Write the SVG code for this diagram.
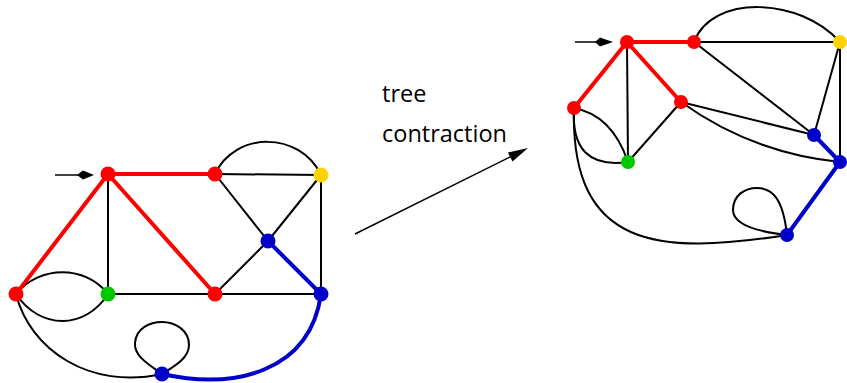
<svg xmlns="http://www.w3.org/2000/svg" width="847" height="383" viewBox="0 0 847 383">
<style>
.e{fill:none;stroke:#000;stroke-width:2}
.r{fill:none;stroke:#ff0000;stroke-width:4}
.b{fill:none;stroke:#0000c8;stroke-width:4}
.nr{fill:#ff0000}.nb{fill:#0000c8}.ng{fill:#00c800}.ny{fill:#ffd200}
.t{font-family:"Open Sans","Liberation Sans",sans-serif;font-size:23.5px;fill:#000}
</style>
<rect width="847" height="383" fill="#fff"/>
<g id="connectors">
<!-- left graph -->
<path class="e" d="M108,174 L108,294"/>
<path class="e" d="M215,174 L321,175"/>
<path class="e" d="M215,174 C235,131 300,131 321,175"/>
<path class="e" d="M215,174 L268,241"/>
<path class="e" d="M321,175 L268,241"/>
<path class="e" d="M321,175 L321,294"/>
<path class="e" d="M108,294 L321,294"/>
<path class="e" d="M215,294 L268,241"/>
<path class="e" d="M16,294 C40,265 85,265 108,294"/>
<path class="e" d="M16,294 C40,330 85,330 108,294"/>
<path class="e" d="M16,294 C30,350 90,390 162,374"/>
<path class="e" d="M162,374 C148,364 134,356 135,343 C136,328 150,322 162,322 C175,322 189,330 189,345 C189,358 175,366 162,374"/>
<path class="r" d="M108,174 L215,174"/>
<path class="r" d="M108,174 L16,294"/>
<path class="r" d="M108,174 L215,294"/>
<path class="b" d="M268,241 L321,294"/>
<path class="b" d="M162,374 C235,390 310,372 321,294"/>
<path fill="none" stroke="#000" stroke-width="1.5" d="M55,175 L80,175"/>
<polygon fill="#000" points="77,175 83,170.5 94,175 83,179.5"/>
<!-- middle arrow -->
<path fill="none" stroke="#000" stroke-width="1.5" d="M355,234 L515,154.5"/>
<polygon fill="#000" points="528,148 512.5,161.5 507.9,152.5"/>
<!-- right graph -->
<path class="e" d="M627,42 L628,162"/>
<path class="e" d="M694,42 L840,42"/>
<path class="e" d="M694,42 C712,-6 800,-3 840,42"/>
<path class="e" d="M694,42 L814,135"/>
<path class="e" d="M840,42 L814,135"/>
<path class="e" d="M840,42 L840,162"/>
<path class="e" d="M681,102 L628,162"/>
<path class="e" d="M681,102 L814,135"/>
<path class="e" d="M681,102 C720,130 770,155 840,162"/>
<path class="e" d="M574,108 Q612,115 628,162"/>
<path class="e" d="M574,108 Q570,170 628,162"/>
<path class="e" d="M574,108 C570,250 660,255 787,235"/>
<path class="e" d="M787,235 C760,232 733,225 733,210 C733,195 745,188 757,188 C772,188 783,198 787,235"/>
<path class="r" d="M627,42 L694,42"/>
<path class="r" d="M627,42 L574,108"/>
<path class="r" d="M627,42 L681,102"/>
<path class="b" d="M814,135 L840,162"/>
<path class="b" d="M840,162 L787,235"/>
<path fill="none" stroke="#000" stroke-width="1.5" d="M575,42 L598,42"/>
<polygon fill="#000" points="595,42 600,37.5 613,42 600,46.5"/>
</g>
<g id="left-nodes">
<g id="nA"><circle class="nr" cx="108" cy="174" r="7.5"/></g>
<g id="nB"><circle class="nr" cx="215" cy="174" r="7.5"/></g>
<g id="nC"><circle class="ny" cx="321" cy="175" r="7.5"/></g>
<g id="nD"><circle class="nb" cx="268" cy="241" r="7.5"/></g>
<g id="nE"><circle class="nr" cx="16" cy="294" r="7.5"/></g>
<g id="nF"><circle class="ng" cx="108" cy="294" r="7.5"/></g>
<g id="nG"><circle class="nr" cx="215" cy="294" r="7.5"/></g>
<g id="nH"><circle class="nb" cx="321" cy="294" r="7.5"/></g>
<g id="nI"><circle class="nb" cx="162" cy="374" r="7.5"/></g>
</g>
<g id="right-nodes">
<g id="nP"><circle class="nr" cx="627" cy="42" r="7"/></g>
<g id="nQ"><circle class="nr" cx="694" cy="42" r="7"/></g>
<g id="nR"><circle class="ny" cx="840" cy="42" r="7"/></g>
<g id="nS"><circle class="nr" cx="681" cy="102" r="7"/></g>
<g id="nT"><circle class="nr" cx="574" cy="108" r="7"/></g>
<g id="nU"><circle class="ng" cx="628" cy="162" r="7"/></g>
<g id="nV"><circle class="nb" cx="814" cy="135" r="7"/></g>
<g id="nW"><circle class="nb" cx="840" cy="162" r="7"/></g>
<g id="nX"><circle class="nb" cx="787" cy="235" r="7"/></g>
</g>
<g id="label">
<text class="t" x="382" y="102">tree</text>
<text class="t" x="382" y="142">contraction</text>
</g>
</svg>
